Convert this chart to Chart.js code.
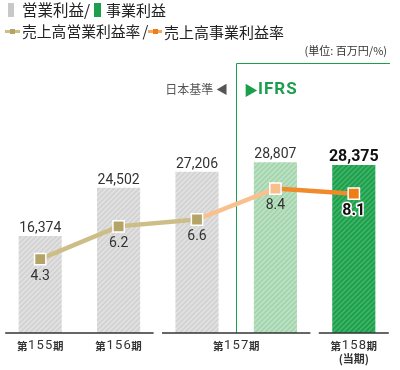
<!DOCTYPE html>
<html>
<head>
<meta charset="utf-8">
<script src="https://cdn.jsdelivr.net/npm/chart.js@4.4.1/dist/chart.umd.min.js"></script>
<style>
body { margin: 0; background: #fff; font-family: "Noto Sans CJK JP", sans-serif; }
#wrap { position: relative; width: 400px; height: 370px; overflow: hidden; }
#wrap canvas { position: absolute; left: 0; top: 0; }
.t { position: absolute; white-space: nowrap; line-height: 1; color: #222; }
.box { position: absolute; }
</style>
</head>
<body>
<div id="wrap">
  <canvas id="chart" width="400" height="370"></canvas>

  <!-- legend -->
  <div class="box" style="left:8px;top:3px;width:6px;height:14px;background:#c8c8c8"></div>
  <div class="t" style="left:22px;top:2px;font-size:15.5px">営業利益/</div>
  <div class="box" style="left:94px;top:3px;width:7px;height:14px;background:#1c9f4c"></div>
  <div class="t" style="left:106px;top:2px;font-size:15px">事業利益</div>

  <div class="box" style="left:5px;top:30px;width:15px;height:3px;background:#cdbd86"></div>
  <div class="box" style="left:10px;top:29px;width:5px;height:5px;background:#b5a468"></div>
  <div class="t" style="left:22px;top:24px;font-size:14.8px">売上高営業利益率<span style="margin-left:2px">/</span></div>
  <div class="box" style="left:148px;top:30px;width:14px;height:3px;background:#f6a55a"></div>
  <div class="box" style="left:153px;top:29px;width:5px;height:5px;background:#ee7d16"></div>
  <div class="t" style="left:164px;top:24px;font-size:15px">売上高事業利益率</div>

  <div class="t" style="right:13px;top:45px;font-size:11px;color:#333">(単位: 百万円/%)</div>

  <div class="t" style="right:172px;top:83px;font-size:12px;color:#555">日本基準 ◀</div>
  <div class="t" style="left:244px;top:82px;font-size:14px;color:#1c9f4c">▶</div>
  <div class="t" style="left:258px;top:80px;font-size:17px;font-weight:bold;letter-spacing:1px;color:#1c9f4c;font-family:Roboto,sans-serif">IFRS</div>
</div>

<script>
const categories = ['第155期', '第156期', '第157期(日本基準)', '第157期(IFRS)', '第158期'];
const profitValues = [16374, 24502, 27206, 28807, 28375];
const marginValues = [4.3, 6.2, 6.6, 8.4, 8.1];
const profitLabels = ['16,374', '24,502', '27,206', '28,807', '28,375'];
const marginLabels = ['4.3', '6.2', '6.6', '8.4', '8.1'];
// x axis labels: [prefix, number, suffix], and the bars they sit under
const tickGroups = [
    { parts: ['第', '155', '期'], from: 0, to: 0 },
    { parts: ['第', '156', '期'], from: 1, to: 1 },
    { parts: ['第', '157', '期'], from: 2, to: 3 },
    { parts: ['第', '158', '期'], sub: '(当期)', from: 4, to: 4 }
];
const axisGroups = [[0, 1], [2, 3], [4, 4]];

function hatch(base, stripe) {
    const s = 5;
    const c = document.createElement('canvas');
    c.width = s; c.height = s;
    const g = c.getContext('2d');
    g.fillStyle = base;
    g.fillRect(0, 0, s, s);
    g.strokeStyle = stripe;
    g.lineWidth = 1.6;
    g.beginPath();
    g.moveTo(-1, s + 1); g.lineTo(s + 1, -1);
    g.moveTo(-1, 1); g.lineTo(1, -1);
    g.moveTo(s - 1, s + 1); g.lineTo(s + 1, s - 1);
    g.stroke();
    return g.createPattern(c, 'repeat');
}

const grayFill = hatch('#d2d2d2', '#e2e2e2');
const lightGreenFill = hatch('#a4d4ad', '#bde2c4');
const greenFill = hatch('#1c9f4c', '#40b367');
const barFills = [grayFill, grayFill, grayFill, lightGreenFill, greenFill];

const khaki = '#cdbd86';
const segColors = [khaki, khaki, '#f9c08e', '#f08a2a'];
const pointFills = ['#b5a468', '#b5a468', '#b5a468', '#f8bf8c', '#ee7d16'];

const kanjiFont = 'bold 10.5px "Noto Sans CJK JP"';
const digitFont = '13px Roboto';

function drawTick(ctx, parts, cx, cy) {
    const fonts = [kanjiFont, digitFont, kanjiFont];
    const spacing = [0, 1.2, 0];
    let widths = parts.map(function(p, i) {
        ctx.font = fonts[i];
        return ctx.measureText(p).width + spacing[i] * p.length;
    });
    let total = widths.reduce(function(a, b) { return a + b; }, 0);
    let px = cx - total / 2;
    ctx.textAlign = 'left';
    parts.forEach(function(p, i) {
        ctx.font = fonts[i];
        if (spacing[i]) {
            for (const ch of p) {
                ctx.fillText(ch, px + spacing[i] / 2, cy);
                px += ctx.measureText(ch).width + spacing[i];
            }
        } else {
            ctx.fillText(p, px, cy);
            px += widths[i];
        }
    });
}

const overlay = {
    id: 'overlay',
    beforeDatasetsDraw(chart) {
        // IFRS frame
        const ctx = chart.ctx, x = chart.scales.x, y = chart.scales.y;
        const mid = (x.getPixelForValue(2) + x.getPixelForValue(3)) / 2;
        ctx.save();
        ctx.strokeStyle = '#1c9f4c';
        ctx.lineWidth = 1;
        ctx.beginPath();
        ctx.moveTo(Math.round(mid) + 0.5, y.getPixelForValue(0));
        ctx.lineTo(Math.round(mid) + 0.5, chart.chartArea.top + 0.5);
        ctx.lineTo(chart.chartArea.right - 3, chart.chartArea.top + 0.5);
        ctx.stroke();
        ctx.restore();
    },
    afterDatasetsDraw(chart) {
        const ctx = chart.ctx, x = chart.scales.x, y = chart.scales.y, y2 = chart.scales.y2;
        const base = y.getPixelForValue(0);
        ctx.save();

        // broken baseline
        ctx.strokeStyle = '#333';
        ctx.lineWidth = 1.5;
        axisGroups.forEach(function(g) {
            ctx.beginPath();
            ctx.moveTo(x.getPixelForValue(g[0]) - 35, base);
            ctx.lineTo(x.getPixelForValue(g[1]) + 35, base);
            ctx.stroke();
        });

        // category labels
        ctx.fillStyle = '#333';
        ctx.textBaseline = 'middle';
        tickGroups.forEach(function(g) {
            const cx = (x.getPixelForValue(g.from) + x.getPixelForValue(g.to)) / 2;
            drawTick(ctx, g.parts, cx, base + 13);
            if (g.sub) {
                ctx.font = 'bold 11px "Noto Sans CJK JP"';
                ctx.textAlign = 'center';
                ctx.fillText(g.sub, cx, base + 26);
            }
        });

        // bar values
        ctx.textAlign = 'center';
        ctx.textBaseline = 'alphabetic';
        profitValues.forEach(function(v, i) {
            const last = i === profitValues.length - 1;
            ctx.font = last ? 'bold 16px Roboto' : '14px Roboto';
            ctx.fillStyle = last ? '#111' : '#333';
            ctx.fillText(profitLabels[i], x.getPixelForValue(i), y.getPixelForValue(v) - 4);
        });

        // margin values
        ctx.textBaseline = 'middle';
        marginValues.forEach(function(v, i) {
            const last = i === marginValues.length - 1;
            const px = x.getPixelForValue(i), py = y2.getPixelForValue(v) + 17;
            if (last) {
                ctx.font = 'bold 16px Roboto';
                ctx.lineWidth = 3;
                ctx.strokeStyle = '#fff';
                ctx.lineJoin = 'round';
                ctx.strokeText(marginLabels[i], px, py);
                ctx.fillStyle = '#111';
            } else {
                ctx.font = '14px Roboto';
                ctx.fillStyle = '#333';
            }
            ctx.fillText(marginLabels[i], px, py);
        });
        ctx.restore();
    }
};

new Chart(document.getElementById('chart').getContext('2d'), {
    data: {
        labels: categories,
        datasets: [{
            type: 'line',
            label: '売上高営業利益率',
            data: marginValues,
            yAxisID: 'y2',
            order: 0,
            borderWidth: 4.5,
            borderColor: khaki,
            segment: {
                borderColor: function(ctx) { return segColors[ctx.p0DataIndex]; }
            },
            pointStyle: 'rect',
            pointRadius: 8,
            pointBackgroundColor: pointFills,
            pointBorderColor: '#fff',
            pointBorderWidth: 1.5,
            tension: 0
        }, {
            type: 'bar',
            label: '営業利益',
            data: profitValues,
            yAxisID: 'y',
            order: 1,
            backgroundColor: barFills,
            borderWidth: 0,
            categoryPercentage: 1,
            barPercentage: 0.55
        }]
    },
    options: {
        responsive: false,
        animation: false,
        layout: { autoPadding: false, padding: { left: 1, right: 7, top: 63, bottom: 37 } },
        scales: {
            x: { display: false, offset: true },
            y: { display: false, min: 0, max: 45580 },
            y2: { display: false, min: 0, max: 15.7, position: 'right' }
        },
        plugins: {
            legend: { display: false },
            tooltip: { enabled: false }
        }
    },
    plugins: [overlay]
});
</script>
</body>
</html>
